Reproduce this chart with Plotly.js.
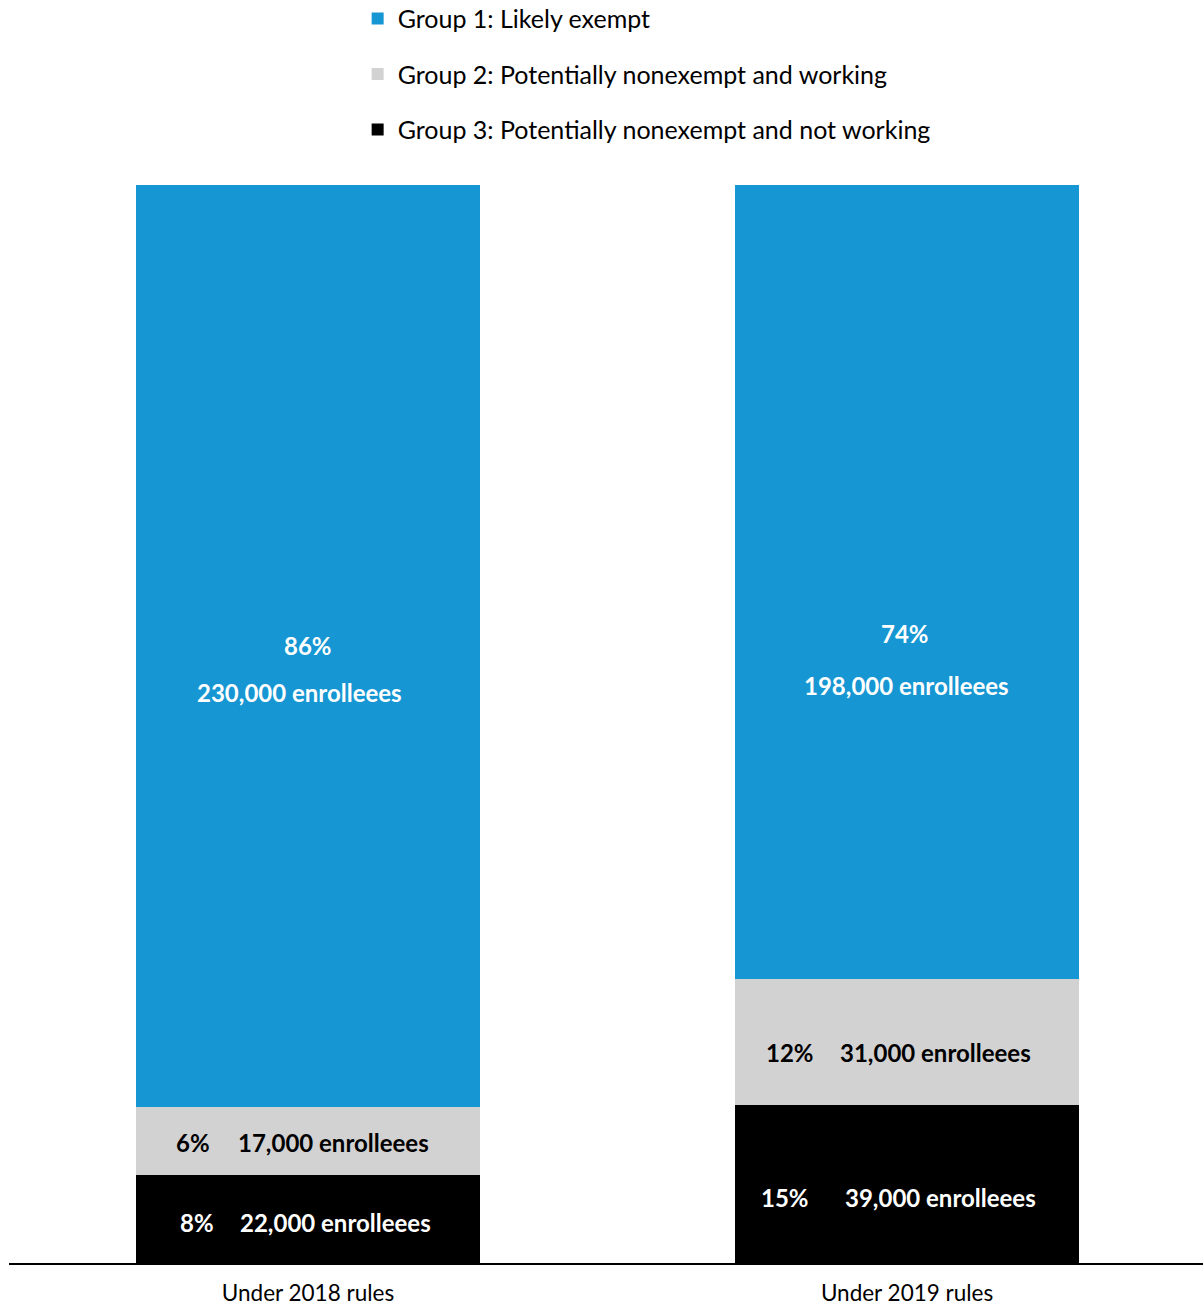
<!DOCTYPE html>
<html><head><meta charset="utf-8">
<script src="https://cdn.plot.ly/plotly-3.0.1.min.js"></script>
<style>html,body{margin:0;padding:0;background:#fff}</style>
</head><body>
<div id="chart" style="width:1203px;height:1306px"></div>
<script>
const categories = ["Under 2018 rules", "Under 2019 rules"];
const seriesNames = ["Group 3: Potentially nonexempt and not working", "Group 2: Potentially nonexempt and working", "Group 1: Likely exempt"];
// bar heights in thousands of enrollees
const group3 = [22.0, 39.4];
const group2 = [17.0, 31.4];
const group1 = [230.1, 198.2];
// printed labels
const num3 = ["22,000", "39,000"];
const num2 = ["17,000", "31,000"];
const num1 = ["230,000", "198,000"];
const pct3 = ["8%", "15%"];
const pct2 = ["6%", "12%"];
const pct1 = ["86%", "74%"];
const colors = ["#000000", "#d2d2d2", "#1696d2"];

const series = [group3, group2, group1];
const pcts = [pct3, pct2, pct1];
const nums = [num3, num2, num1];
const ranks = [3, 2, 1];
const traces = series.map((vals, i) => ({
  type: "bar", name: seriesNames[i], x: categories, y: vals,
  marker: {color: colors[i]}, hoverinfo: "skip", legendgroup: "g" + i, legendrank: ranks[i]
}));

// label offsets (pixels, dy positive = downward) per series per category: [pct dx, pct dy, num dx, num dy]
const offs = [
  [[-111, 4, 28, 4], [-122, 13, 33, 13]],
  [[-115, 2, 26, 2], [-117, 10, 28, 10]],
  [[0, 0, -8, 47], [-2, 51, -1, 103]]
];
const annotations = [];
categories.forEach((c, ci) => {
  let base = 0;
  series.forEach((vals, si) => {
    const mid = base + vals[ci] / 2;
    base += vals[ci];
    const o = offs[si][ci];
    const col = si === 1 ? "#000000" : "#ffffff";
    const f = {family: "Lato, sans-serif", size: 24, color: col, weight: 700};
    annotations.push({xref: "x", yref: "y", x: c, y: mid, text: "<b>" + pcts[si][ci] + "</b>", showarrow: false, xshift: o[0], yshift: -o[1], font: f});
    annotations.push({xref: "x", yref: "y", x: c, y: mid, text: "<b>" + nums[si][ci] + " enrolleees</b>", showarrow: false, xshift: o[2], yshift: -o[3], font: f});
  });
});

const layout = {
  width: 1203, height: 1306,
  margin: {l: 9, r: 0, t: 185, b: 43, autoexpand: false},
  barmode: "stack", bargap: 0.427,
  paper_bgcolor: "#fff", plot_bgcolor: "#fff",
  font: {family: "Lato, sans-serif", color: "#000"},
  showlegend: true,
  legend: {x: 0.292, xanchor: "left", y: 1.1755, yanchor: "top", orientation: "v",
    traceorder: "grouped", tracegroupgap: 20,
    font: {family: "Lato, sans-serif", size: 25, color: "#000"}, bgcolor: "rgba(0,0,0,0)"},
  xaxis: {type: "category", range: [-0.499, 1.494], showline: true, linecolor: "#000", linewidth: 2, ticks: "", ticklabelstandoff: 9,
    tickfont: {family: "Lato, sans-serif", size: 22.5, color: "#000"}, showgrid: false, zeroline: false, fixedrange: true},
  yaxis: {range: [0, 269.1], visible: false, showgrid: false, zeroline: false, fixedrange: true},
  annotations: annotations
};
Plotly.newPlot("chart", traces, layout, {displayModeBar: false, staticPlot: true});
</script>
</body></html>
